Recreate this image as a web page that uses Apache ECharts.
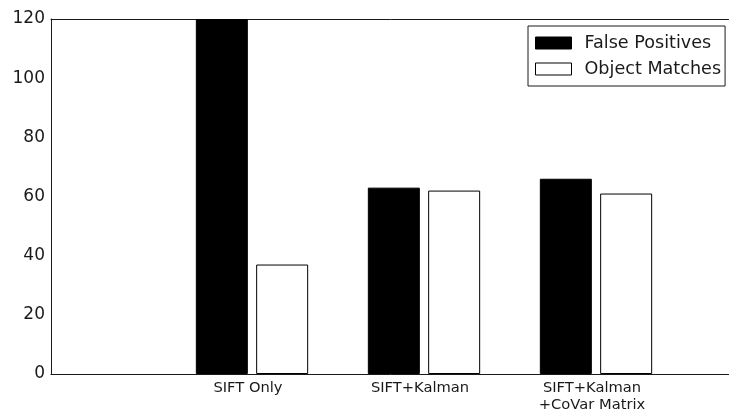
<!DOCTYPE html>
<html>
<head>
<meta charset="utf-8">
<script src="https://cdn.jsdelivr.net/npm/echarts@6/dist/echarts.min.js"></script>
<style>
html,body{margin:0;padding:0;background:#fff;}
#chart{width:729px;height:412px;}
</style>
</head>
<body>
<div id="chart"></div>
<script>
var categories = ["SIFT Only", "SIFT+Kalman", "SIFT+Kalman\n+CoVar Matrix"];
var categoryPositions = [1, 2, 3];
var falsePositives = [120, 63, 66];
var objectMatches = [37, 62, 61];
var yTicks = [0, 20, 40, 60, 80, 100, 120];

function pairs(vals) {
  return vals.map(function (v, i) { return [categoryPositions[i], v]; });
}

var chart = echarts.init(document.getElementById('chart'), null, {renderer: 'canvas'});
var font = '"DejaVu Sans", sans-serif';
var lineStyle = {color: '#1a1a1a', width: 1};
var xMin = 1 - 201 / 172, xMax = 1 + 487 / 172;
chart.setOption({
  animation: false,
  backgroundColor: '#fff',
  grid: {
    left: 51, right: -10, top: 19, bottom: 38,
    outerBoundsMode: 'none',
    containLabel: false,
    show: false
  },
  legend: {
    orient: 'vertical',
    left: 528, top: 26,
    padding: [8, 4, 8, 7],
    borderColor: '#1a1a1a', borderWidth: 1,
    backgroundColor: '#fff',
    itemWidth: 36, itemHeight: 12, itemGap: 8,
    icon: 'rect',
    textStyle: {fontFamily: font, fontSize: 17.6, color: '#1a1a1a', lineHeight: 17, padding: [0, 0, 0, 8]},
    data: [
      {name: 'False Positives', itemStyle: {color: '#000', borderColor: '#000', borderWidth: 1}},
      {name: 'Object Matches', itemStyle: {color: '#fff', borderColor: '#000', borderWidth: 1}}
    ]
  },
  xAxis: [{
    type: 'value',
    position: 'bottom',
    min: xMin, max: xMax,
    splitLine: {show: false},
    axisLine: {show: true, onZero: false, lineStyle: lineStyle},
    axisTick: {show: false},
    axisLabel: {
      customValues: categoryPositions,
      formatter: function (v) {
        var i = categoryPositions.indexOf(Math.round(v));
        return Math.abs(v - Math.round(v)) < 1e-6 && i >= 0 ? categories[i] : '';
      },
      fontFamily: font, fontSize: 14.7, color: '#1a1a1a', margin: 5, lineHeight: 17.5, align: 'center',
      padding: [0, 8, 0, 0]
    }
  }, {
    type: 'value',
    position: 'top',
    min: xMin, max: xMax,
    splitLine: {show: false},
    axisLine: {show: true, onZero: false, lineStyle: lineStyle},
    axisTick: {show: false},
    axisLabel: {show: false}
  }],
  yAxis: {
    type: 'value',
    min: 0, max: 120, interval: 20,
    splitLine: {show: false},
    axisLine: {show: true, onZero: false, lineStyle: lineStyle},
    axisTick: {show: false},
    axisLabel: {fontFamily: font, fontSize: 17, color: '#1a1a1a', margin: 6,
      formatter: function (v) { return yTicks.indexOf(v) >= 0 ? String(v) : ''; }}
  },
  series: [
    {
      name: 'False Positives', type: 'bar', xAxisIndex: 0,
      data: pairs(falsePositives),
      barWidth: 52, barGap: '16%',
      itemStyle: {color: '#000', borderColor: '#000', borderWidth: 1}
    },
    {
      name: 'Object Matches', type: 'bar', xAxisIndex: 0,
      data: pairs(objectMatches),
      barWidth: 52, barGap: '16%',
      itemStyle: {color: '#fff', borderColor: '#000', borderWidth: 1}
    }
  ]
});
</script>
</body>
</html>
